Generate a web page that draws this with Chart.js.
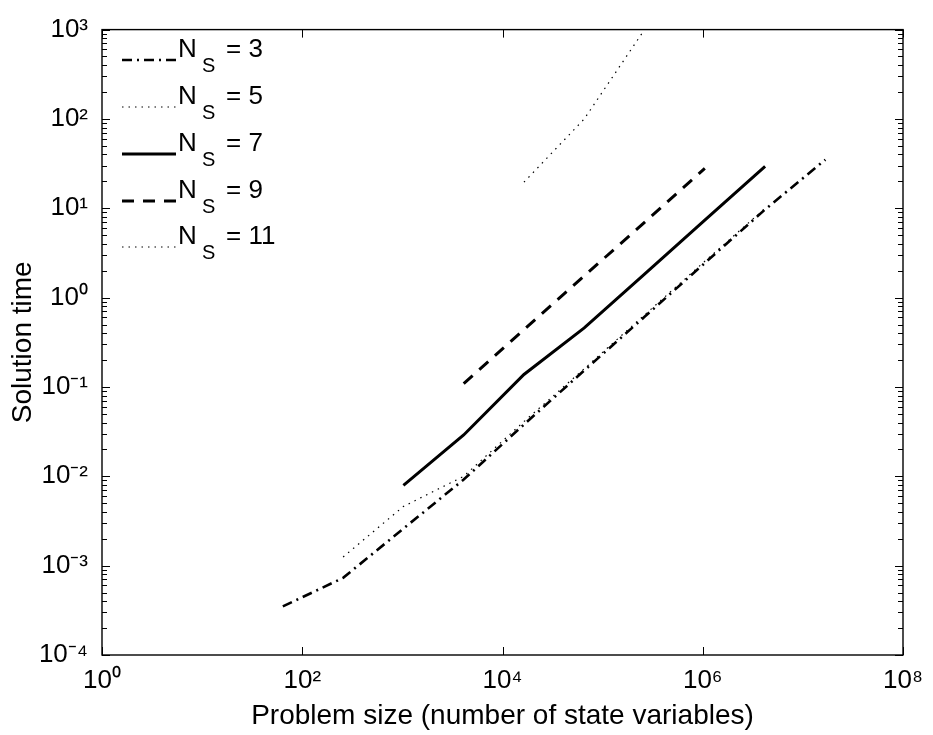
<!DOCTYPE html>
<html><head><meta charset="utf-8">
<script src="https://cdn.jsdelivr.net/npm/chart.js@4.4.0/dist/chart.umd.min.js"></script>
<style>html,body{margin:0;padding:0;background:#fff;} #wrap{width:933px;height:735px;}</style>
</head><body><div id="wrap"><canvas id="c" width="933" height="735"></canvas></div>
<script>
// ---- data ----
const seriesNames = ['3', '5', '7', '9', '11'];
const ns3Size = [64, 256, 1024, 4096, 16384, 65536, 262144, 1048576, 4194304, 16777216];
const ns3Time = [3.5e-4, 7.3e-4, 2.6e-3, 9.2e-3, 0.038, 0.153, 0.61, 2.44, 9.7, 35];
const ns5Size = [256, 1024, 4096, 16384, 65536, 262144, 1048576, 4194304];
const ns5Time = [1.25e-3, 4.6e-3, 1.0e-2, 0.041, 0.16, 0.64, 2.55, 10];
const ns7Size = [1024, 4096, 16384, 65536, 262144, 1048576, 4194304];
const ns7Time = [7.9e-3, 0.029, 0.138, 0.458, 1.83, 7.35, 29.4];
const ns9Size = [4096, 16384, 65536, 262144, 1048576];
const ns9Time = [0.109, 0.44, 1.75, 6.97, 28];
const ns11Size = [16384, 65536, 262144];
const ns11Time = [19.6, 100, 1000];
const xTickExps = [0, 2, 4, 6, 8];
const yTickExps = [-4, -3, -2, -1, 0, 1, 2, 3];
const xTitle = 'Problem size (number of state variables)';
const yTitle = 'Solution time';

const FONT = "'Liberation Sans', Arial, Helvetica, sans-serif";
const SUP = {'0':'⁰','1':'¹','2':'²','3':'³','4':'⁴','5':'⁵','6':'⁶','7':'⁷','8':'⁸','9':'⁹','-':'⁻'};
const sup = n => String(n).split('').map(c => SUP[c]).join('');
const pts = (xs, ys) => xs.map((x, i) => ({x, y: ys[i]}));

const styles = [
  {dash: [10, 5, 2, 5], width: 2.6},
  {dash: [1.5, 5], width: 1.2},
  {dash: [], width: 3},
  {dash: [12, 9], width: 3},
  {dash: [1.5, 5], width: 1.2}
];
const sizes = [ns3Size, ns5Size, ns7Size, ns9Size, ns11Size];
const times = [ns3Time, ns5Time, ns7Time, ns9Time, ns11Time];

const datasets = seriesNames.map((n, i) => ({
  label: 'N_S = ' + n,
  data: pts(sizes[i], times[i]),
  showLine: true, pointRadius: 0, fill: false,
  borderColor: '#000', backgroundColor: '#000',
  borderWidth: styles[i].width, borderDash: styles[i].dash,
  tension: 0
}));

const frameTicks = {
  id: 'frameTicks',
  afterDatasetsDraw(chart) {
    const {ctx, chartArea: a, scales: {x, y}} = chart;
    ctx.save();
    ctx.strokeStyle = '#000';
    ctx.lineWidth = 1;
    ctx.setLineDash([]);
    const seg = (x1, y1, x2, y2) => { ctx.beginPath(); ctx.moveTo(x1, y1); ctx.lineTo(x2, y2); ctx.stroke(); };
    const yMin = yTickExps[0], yMax = yTickExps[yTickExps.length - 1];
    for (let e = yMin; e <= yMax; e++) {
      for (let m = 1; m <= 9; m++) {
        if (e === yMax && m > 1) break;
        const py = Math.round(y.getPixelForValue(m * Math.pow(10, e))) + 0.5;
        const len = m === 1 ? 8 : 5;
        seg(a.left, py, a.left + len, py);
        seg(a.right, py, a.right - len, py);
      }
    }
    xTickExps.forEach(e => {
      const px = Math.round(x.getPixelForValue(Math.pow(10, e))) + 0.5;
      seg(px, a.bottom, px, a.bottom - 8);
      seg(px, a.top, px, a.top + 8);
    });
    ctx.lineWidth = 1.4;
    ctx.strokeRect(a.left, a.top, a.right - a.left, a.bottom - a.top);
    ctx.restore();
  }
};

const legendPlugin = {
  id: 'nsLegend',
  afterDraw(chart) {
    const {ctx} = chart;
    const rowY = [60, 107, 154, 201, 247];
    ctx.save();
    chart.data.datasets.forEach((ds, i) => {
      const yy = rowY[i];
      ctx.strokeStyle = '#000';
      ctx.lineWidth = ds.borderWidth;
      ctx.setLineDash(ds.borderDash);
      ctx.beginPath(); ctx.moveTo(122, yy); ctx.lineTo(176, yy); ctx.stroke();
      ctx.setLineDash([]);
      ctx.fillStyle = '#000';
      ctx.textBaseline = 'alphabetic';
      ctx.textAlign = 'left';
      ctx.font = '26px ' + FONT;
      ctx.fillText('N', 178, yy - 3);
      ctx.font = '20px ' + FONT;
      ctx.fillText('S', 202, yy + 12);
      ctx.font = '26px ' + FONT;
      ctx.fillText('= ' + seriesNames[i], 226, yy - 3);
    });
    ctx.restore();
  }
};

new Chart(document.getElementById('c'), {
  type: 'scatter',
  data: {datasets},
  options: {
    responsive: false, animation: false, devicePixelRatio: 1,
    layout: {padding: {top: 24, right: 30, left: 0, bottom: 0}},
    plugins: {legend: {display: false}, tooltip: {enabled: false}},
    scales: {
      x: {
        type: 'logarithmic', min: 1, max: 1e8,
        afterBuildTicks: s => { s.ticks = xTickExps.map(e => ({value: Math.pow(10, e)})); },
        afterFit: s => { s.height = 80; },
        grid: {display: false, drawTicks: false},
        border: {display: false},
        ticks: {
          autoSkip: false, maxRotation: 0, padding: 10, color: '#000',
          font: {family: FONT, size: 26},
          callback: v => '10' + sup(Math.round(Math.log10(v)))
        },
        title: {display: true, text: xTitle, color: '#000', font: {family: FONT, size: 28}, padding: {top: 0, bottom: 2}}
      },
      y: {
        type: 'logarithmic', min: 1e-4, max: 1e3,
        afterBuildTicks: s => { s.ticks = yTickExps.map(e => ({value: Math.pow(10, e)})); },
        afterFit: s => { s.width = 102; },
        grid: {display: false, drawTicks: false},
        border: {display: false},
        ticks: {
          autoSkip: false, padding: 14, color: '#000',
          font: {family: FONT, size: 26},
          callback: v => '10' + sup(Math.round(Math.log10(v)))
        },
        title: {display: true, text: yTitle, color: '#000', font: {family: FONT, size: 28}, padding: {top: 6, bottom: 0}}
      }
    }
  },
  plugins: [frameTicks, legendPlugin]
});
</script>
</body></html>
